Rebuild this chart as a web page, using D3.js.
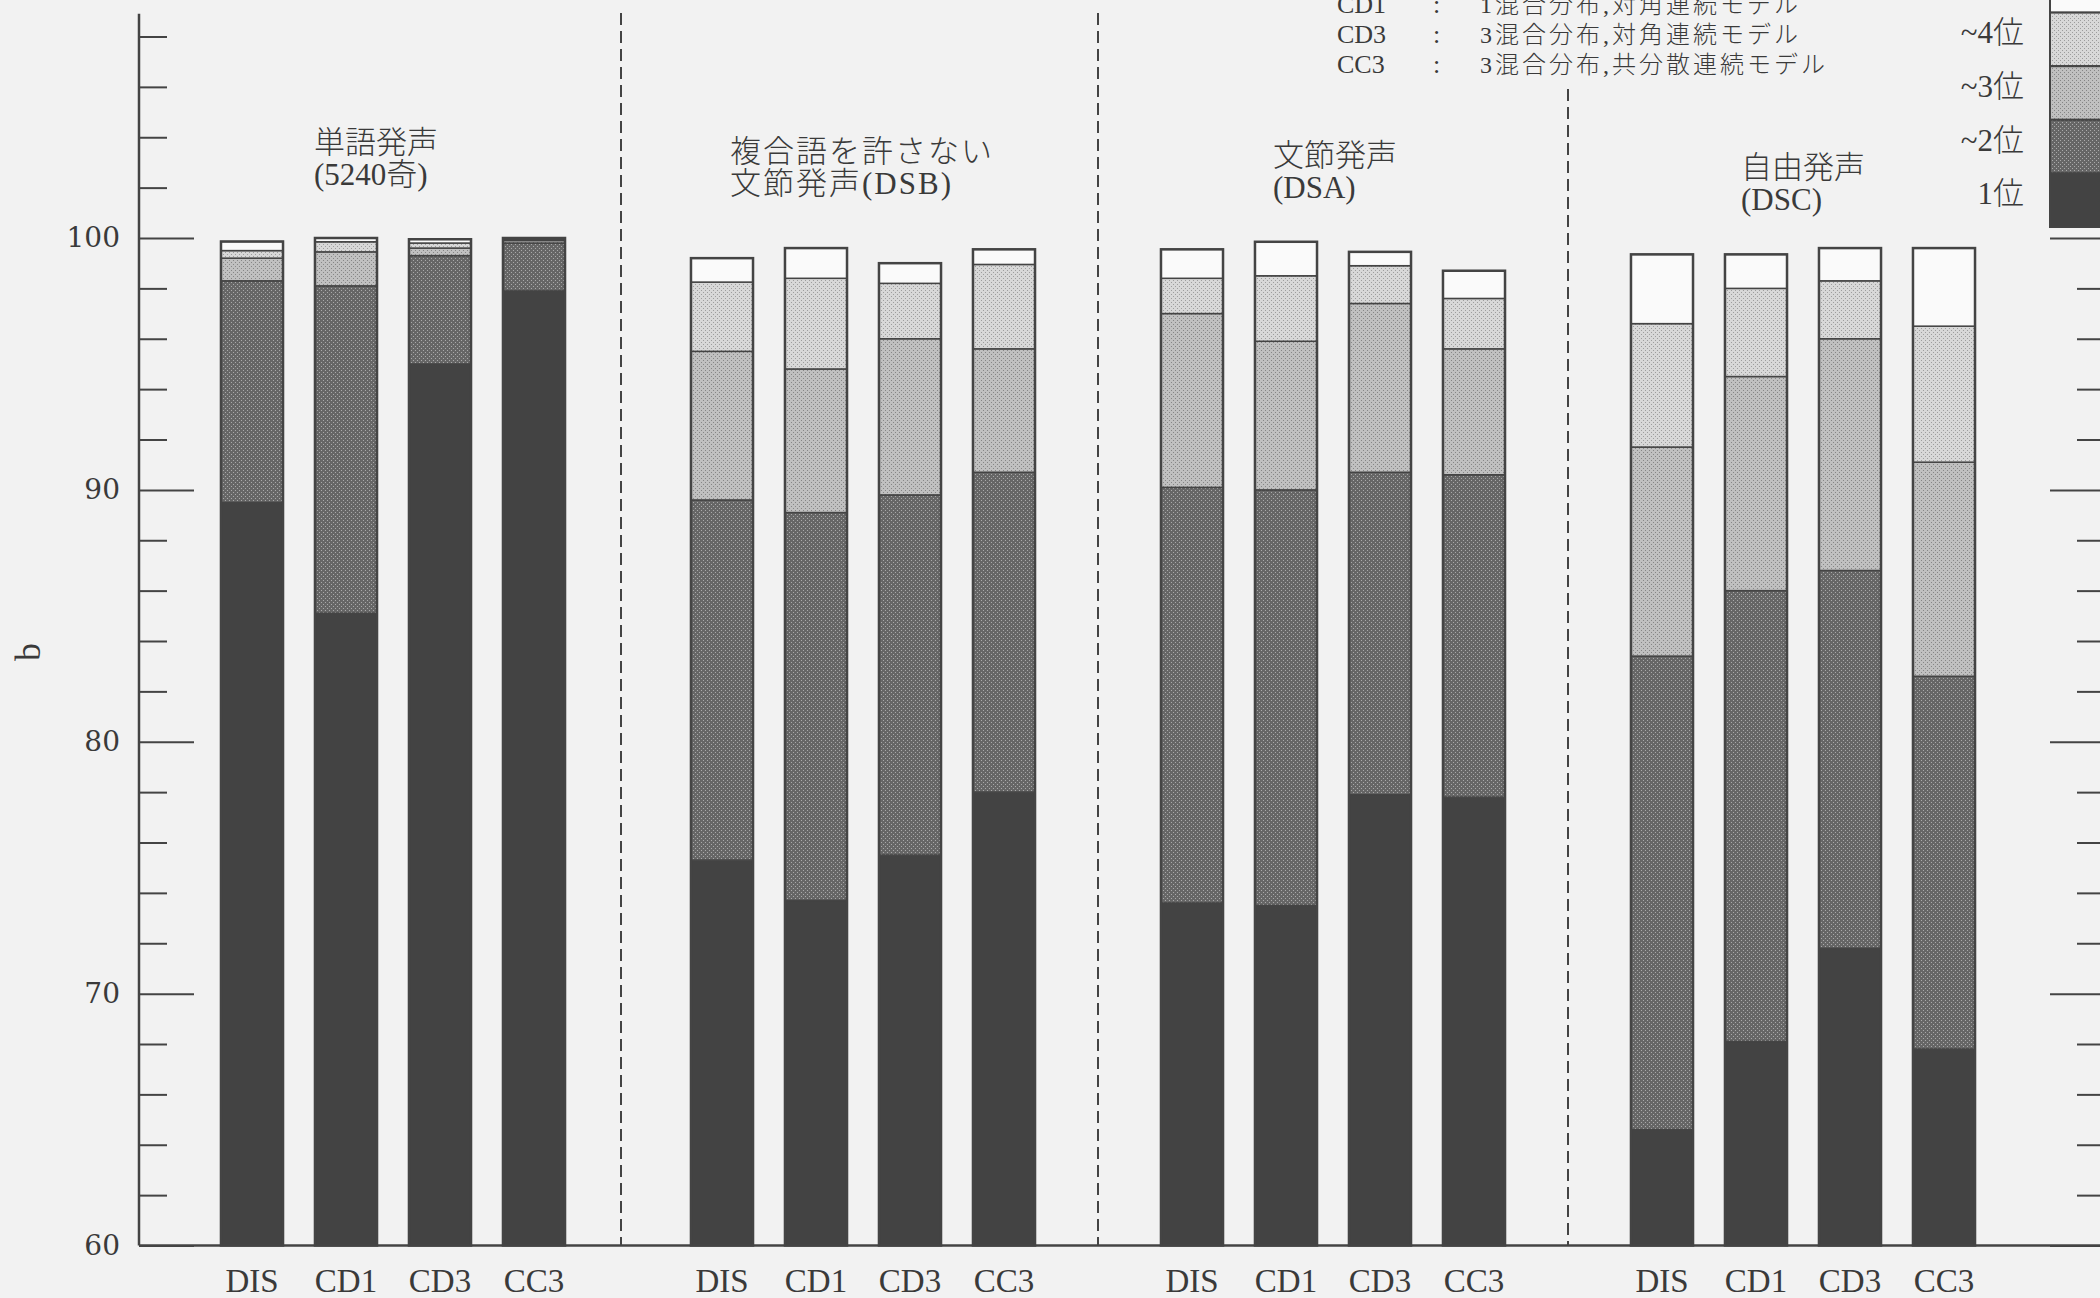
<!DOCTYPE html>
<html lang="ja">
<head>
<meta charset="UTF-8">
<title>認識順位別の累積認識率</title>
<script src="https://d3js.org/d3.v7.min.js"></script>
<style>
  body { margin: 0; background: #f2f2f2; }
  svg { display: block; }
  text { fill: #3a3a3a; }
  .serif { font-family: "Liberation Serif", "Noto Sans CJK JP", serif; }
  .ja { font-family: "Liberation Serif", "Noto Sans CJK JP", serif; font-weight: 300; }
</style>
</head>
<body>
<svg width="2100" height="1298"></svg>
<script>
// ---- data (cumulative %) ----
const groupLabels = [
  ["単語発声", "(5240奇)"],
  ["複合語を許さない", "文節発声(DSB)"],
  ["文節発声", "(DSA)"],
  ["自由発声", "(DSC)"]
];
const models = ["DIS", "CD1", "CD3", "CC3"];

// order: group1 DIS,CD1,CD3,CC3, group2 ..., group3 ..., group4 ...
const rank1  = [89.5, 85.1, 95.0, 97.9,  75.3, 73.7, 75.5, 78.0,  73.6, 73.5, 77.9, 77.8,  64.6, 68.1, 71.8, 67.8];
const upTo2  = [98.3, 98.1, 99.3, 99.8,  89.6, 89.1, 89.8, 90.7,  90.1, 90.0, 90.7, 90.6,  83.4, 86.0, 86.8, 82.6];
const upTo3  = [99.2, 99.45, 99.6, 99.9, 95.5, 94.8, 96.0, 95.6,  97.0, 95.9, 97.4, 95.6,  91.7, 94.5, 96.0, 91.1];
const upTo4  = [99.5, 99.85, 99.8, 99.95, 98.25, 98.4, 98.2, 98.95, 98.4, 98.5, 98.9, 97.6, 96.6, 98.0, 98.3, 96.5];
const upToTop = [99.86, 100, 99.95, 100, 99.2, 99.6, 99.0, 99.55, 99.55, 99.85, 99.45, 98.7, 99.35, 99.35, 99.6, 99.6];

const yMajor = [60, 70, 80, 90, 100];
const rankLabels = ["1位", "~2位", "~3位", "~4位"];
const legendModels = ["CD1", "CD3", "CC3"];
const legendDesc = ["1混合分布,対角連続モデル", "3混合分布,対角連続モデル", "3混合分布,共分散連続モデル"];

// ---- setup ----
const svg = d3.select("svg");
const ink = "#444";

const defs = svg.append("defs");
function stipple(id, bg, dot) {
  const p = defs.append("pattern").attr("id", id)
    .attr("patternUnits", "userSpaceOnUse").attr("width", 4).attr("height", 4);
  p.append("rect").attr("width", 4).attr("height", 4).attr("fill", bg);
  p.append("rect").attr("x", 0).attr("y", 0).attr("width", 1).attr("height", 1).attr("fill", dot);
  p.append("rect").attr("x", 2).attr("y", 2).attr("width", 1).attr("height", 1).attr("fill", dot);
}
stipple("p2", "#666", "#aaa");
stipple("p3", "#c0c0c0", "#858585");
stipple("p4", "#d8d8d8", "#9c9c9c");
const fills = ["#434343", "url(#p2)", "url(#p3)", "url(#p4)", "#fafafa"];

const y = d3.scaleLinear().domain([60, 100]).range([1245.5, 238]);
const x0 = d3.scaleBand().domain(d3.range(groupLabels.length)).range([158, 2038]);
const x1 = d3.scaleBand().domain(models).range([47, 423]).paddingInner(0.34).paddingOuter(0.17);

const yMinor = d3.range(62, 109, 2).filter(v => v % 10 !== 0);

// ---- left axis ----
const axisL = svg.append("g").attr("transform", "translate(139,0)");
axisL.call(d3.axisLeft(y).tickValues(yMajor).tickSizeInner(-55).tickSizeOuter(0).tickPadding(19));
axisL.append("g")
  .call(d3.axisLeft(y).tickValues(yMinor).tickSizeInner(-28).tickSizeOuter(0).tickFormat(""));
axisL.selectAll(".domain").remove();
axisL.selectAll("line").attr("stroke", ink).attr("stroke-width", 2);
axisL.selectAll("text")
  .attr("fill", "#3a3a3a")
  .style("font-family", "'DejaVu Serif', serif")
  .style("font-size", "28px");
axisL.append("line").attr("x1", 0).attr("x2", 0)
  .attr("y1", y(60)).attr("y2", y(108.9))
  .attr("stroke", ink).attr("stroke-width", 2.5);

// y label
svg.append("text").attr("class", "serif")
  .attr("transform", "translate(40,652) rotate(-90)")
  .attr("text-anchor", "middle")
  .style("font-size", "36px")
  .text("b");

// ---- right axis (ticks point inward) ----
const axisR = svg.append("g").attr("transform", "translate(2105,0)");
axisR.call(d3.axisRight(y).tickValues(yMajor).tickSizeInner(-55).tickSizeOuter(0).tickFormat(""));
axisR.append("g")
  .call(d3.axisRight(y).tickValues(yMinor.filter(v => v < 100)).tickSizeInner(-28).tickSizeOuter(0).tickFormat(""));
axisR.selectAll(".domain").remove();
axisR.selectAll("line").attr("stroke", ink).attr("stroke-width", 2);

// ---- baseline ----
svg.append("line")
  .attr("x1", 139).attr("x2", 2100)
  .attr("y1", y(60)).attr("y2", y(60))
  .attr("stroke", ink).attr("stroke-width", 2.5);

// ---- group dividers ----
const dividerTop = [13, 13, 89];
svg.selectAll(".divider")
  .data(d3.range(1, groupLabels.length))
  .join("line")
  .attr("class", "divider")
  .attr("x1", g => x0(g) - (g === 1 ? 7 : 0))
  .attr("x2", g => x0(g) - (g === 1 ? 7 : 0))
  .attr("y1", (g, i) => dividerTop[i])
  .attr("y2", y(60))
  .attr("stroke", ink).attr("stroke-width", 2)
  .attr("stroke-dasharray", "12,6");

// ---- bars ----
const bars = rank1.map((r1, i) => {
  const cum = [60, r1, upTo2[i], upTo3[i], upTo4[i], upToTop[i]];
  return { g: Math.floor(i / models.length), m: models[i % models.length], cum };
});

const barG = svg.selectAll(".bar")
  .data(bars)
  .join("g")
  .attr("class", "bar")
  .attr("transform", d => `translate(${x0(d.g) + x1(d.m)},0)`);

barG.selectAll("rect.seg")
  .data(d => d3.range(5).map(k => ({ lo: d.cum[k], hi: d.cum[k + 1], k })))
  .join("rect")
  .attr("class", "seg")
  .attr("x", 0)
  .attr("width", x1.bandwidth())
  .attr("y", s => y(s.hi))
  .attr("height", s => Math.max(0, y(s.lo) - y(s.hi)))
  .attr("fill", s => fills[s.k])
  .attr("stroke", ink)
  .attr("stroke-width", s => s.k === 0 ? 0 : 1.5);

barG.append("rect")
  .attr("x", 0).attr("width", x1.bandwidth())
  .attr("y", d => y(d.cum[5]))
  .attr("height", d => y(60) - y(d.cum[5]))
  .attr("fill", "none")
  .attr("stroke", ink).attr("stroke-width", 2.5);

// ---- x labels ----
svg.selectAll(".xlab")
  .data(bars)
  .join("text")
  .attr("class", "xlab serif")
  .attr("x", d => x0(d.g) + x1(d.m) + x1.bandwidth() / 2)
  .attr("y", 1292)
  .attr("text-anchor", "middle")
  .style("font-size", "33px")
  .text(d => d.m);

// ---- group titles ----
const titleX = [314, 730, 1273, 1741];
const titleY = [153, 162, 166, 178];
const titles = svg.selectAll(".gtitle")
  .data(groupLabels)
  .join("text")
  .attr("class", "gtitle ja")
  .style("font-size", "31px")
  .attr("letter-spacing", (d, i) => i === 1 ? 2 : 0);
titles.selectAll("tspan")
  .data((d, i) => d.map((t, j) => ({ t, x: titleX[i], y: titleY[i] + j * 32 })))
  .join("tspan")
  .attr("x", d => d.x)
  .attr("y", d => d.y)
  .text(d => d.t);

// ---- model legend (top, first row partly cut off as in the original) ----
const legRows = svg.selectAll(".legrow")
  .data(legendModels)
  .join("g")
  .attr("class", "legrow")
  .attr("transform", (d, i) => `translate(0,${13 + i * 30})`);
legRows.append("text").attr("class", "serif").attr("x", 1337).style("font-size", "26px").text(d => d);
legRows.append("text").attr("class", "serif").attr("x", 1433).style("font-size", "26px").text(":");
legRows.append("text").attr("class", "ja").attr("x", 1480)
  .style("font-size", "24px").attr("letter-spacing", 3)
  .text((d, i) => legendDesc[i]);

// ---- rank legend (top right) ----
const legKeys = ["top", ...rankLabels.slice().reverse()];
const ly = d3.scaleBand().domain(legKeys).range([-41, 227]);
const legFill = { "top": fills[4], "~4位": fills[3], "~3位": fills[2], "~2位": fills[1], "1位": fills[0] };
svg.selectAll(".legbox")
  .data(legKeys)
  .join("rect")
  .attr("class", "legbox")
  .attr("x", 2050).attr("width", 70)
  .attr("y", d => ly(d)).attr("height", ly.bandwidth())
  .attr("fill", d => legFill[d])
  .attr("stroke", ink).attr("stroke-width", 2);
svg.selectAll(".leglab")
  .data(rankLabels)
  .join("text")
  .attr("class", "leglab ja")
  .attr("x", 2024)
  .attr("y", d => ly(d) + ly.bandwidth() / 2 + 4)
  .attr("text-anchor", "end")
  .style("font-size", "31px")
  .text(d => d);
</script>
</body>
</html>
